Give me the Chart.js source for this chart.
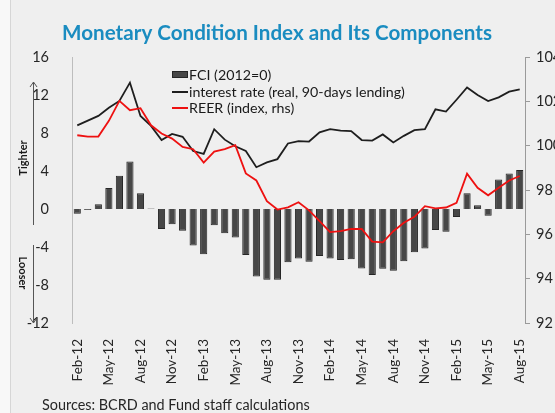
<!DOCTYPE html>
<html>
<head>
<meta charset="utf-8">
<script src="https://cdn.jsdelivr.net/npm/chart.js@4/dist/chart.umd.min.js"></script>
<style>
html,body{margin:0;padding:0;background:#efefef;}
#c{display:block;}
</style>
</head>
<body>
<canvas id="c" width="555" height="413"></canvas>
<script>
const titleText = "Monetary Condition Index and Its Components";
const sourceText = "Sources: BCRD and Fund staff calculations";
const tighterText = "Tighter";
const looserText = "Looser";

const months = ["Feb-12","Mar-12","Apr-12","May-12","Jun-12","Jul-12","Aug-12","Sep-12","Oct-12","Nov-12","Dec-12","Jan-13",
"Feb-13","Mar-13","Apr-13","May-13","Jun-13","Jul-13","Aug-13","Sep-13","Oct-13","Nov-13","Dec-13","Jan-14",
"Feb-14","Mar-14","Apr-14","May-14","Jun-14","Jul-14","Aug-14","Sep-14","Oct-14","Nov-14","Dec-14","Jan-15",
"Feb-15","Mar-15","Apr-15","May-15","Jun-15","Jul-15","Aug-15"];

const fciLabel = "FCI (2012=0)";
const fci = [-0.5,-0.1,0.5,2.2,3.5,5.0,1.65,0.05,-2.1,-1.6,-2.3,-3.85,
-4.75,-1.7,-2.55,-3.0,-4.85,-7.1,-7.45,-7.45,-5.6,-5.2,-5.55,-4.95,
-5.2,-5.37,-5.3,-6.25,-6.95,-6.3,-6.5,-5.5,-4.55,-4.15,-2.2,-2.4,
-0.85,1.65,0.4,-0.7,3.1,3.75,4.1];

const rateLabel = "interest rate (real, 90-days lending)";
const rate = [8.8,9.3,9.8,10.66,11.37,13.3,9.8,8.74,7.26,7.9,7.6,6.1,
5.8,8.4,7.3,6.6,6.1,4.4,4.9,5.25,6.9,7.15,7.1,8.07,
8.4,8.25,8.2,7.26,7.2,7.85,7.0,7.7,8.3,8.4,10.5,10.25,
11.5,12.8,12.0,11.37,11.75,12.35,12.6];

const reerLabel = "REER (index, rhs)";
const reer = [100.47,100.41,100.41,101.12,102.02,101.6,101.69,100.92,100.55,100.32,99.94,99.84,
99.24,99.73,99.84,100.02,98.75,98.43,97.5,97.12,97.22,97.45,97.08,96.6,
96.1,96.14,96.25,96.24,95.67,95.64,96.14,96.52,96.79,97.27,97.17,97.21,
97.42,98.74,98.1,97.76,98.1,98.43,98.63];

const FONT = "Lato, 'Open Sans', sans-serif";

function fitSize(ctx, text, weight, target){
  ctx.font = weight + " 20px " + FONT;
  const w = ctx.measureText(text).width;
  return 20 * target / w;
}

const deco = {
  id: 'deco',
  beforeDraw(chart){
    const ctx = chart.ctx;
    ctx.save();
    ctx.fillStyle = '#efefef';
    ctx.fillRect(0,0,chart.width,chart.height);
    ctx.fillStyle = '#f8f8f8';
    ctx.fillRect(0,0,10,chart.height);
    ctx.strokeStyle = '#d6d6d6';
    ctx.lineWidth = 1;
    ctx.beginPath(); ctx.moveTo(10.5,0); ctx.lineTo(10.5,chart.height); ctx.stroke();
    ctx.restore();
  },
  afterDraw(chart){
    const ctx = chart.ctx;
    ctx.save();
    // title
    let s = fitSize(ctx, titleText, 'bold', 430);
    ctx.font = 'bold ' + s + 'px ' + FONT;
    ctx.fillStyle = '#1a8cc0';
    ctx.textAlign = 'center';
    ctx.textBaseline = 'middle';
    ctx.fillText(titleText, 277, 33);

    // sources
    s = fitSize(ctx, sourceText, 'normal', 268);
    ctx.font = s + 'px ' + FONT;
    ctx.fillStyle = '#262626';
    ctx.textAlign = 'left';
    ctx.fillText(sourceText, 42, 405);

    // legend
    const ds = chart.data.datasets;
    const ls = fitSize(ctx, rateLabel, 'normal', 216);
    ctx.font = ls + 'px ' + FONT;
    ctx.fillStyle = '#1a1a1a';
    const rows = [75, 92, 108];
    // bar icon
    ctx.fillStyle = ds[0].backgroundColor;
    ctx.fillRect(172, 71, 16, 7);
    ctx.strokeStyle = ds[0].borderColor;
    ctx.lineWidth = 1;
    ctx.strokeRect(172.5, 71.5, 15, 6);
    ctx.fillStyle = '#1a1a1a';
    ctx.fillText(ds[0].label, 189, rows[0]);
    for (let k = 1; k < 3; k++){
      ctx.strokeStyle = ds[k].borderColor;
      ctx.lineWidth = 2;
      ctx.beginPath(); ctx.moveTo(172, rows[k]); ctx.lineTo(188, rows[k]); ctx.stroke();
      ctx.fillStyle = '#1a1a1a';
      ctx.fillText(ds[k].label, 189, rows[k]);
    }

    // arrows
    ctx.strokeStyle = '#555';
    ctx.lineWidth = 1;
    ctx.beginPath();
    ctx.moveTo(33.5, 225); ctx.lineTo(33.5, 82);
    ctx.moveTo(30, 87); ctx.lineTo(33.5, 82); ctx.lineTo(37, 87);
    ctx.moveTo(33.5, 245); ctx.lineTo(33.5, 323);
    ctx.moveTo(30, 318); ctx.lineTo(33.5, 323); ctx.lineTo(37, 318);
    ctx.stroke();

    ctx.fillStyle = '#1a1a1a';
    ctx.font = 'bold 11px ' + FONT;
    ctx.textAlign = 'center';
    ctx.save();
    ctx.translate(23, 158);
    ctx.rotate(-Math.PI/2);
    ctx.fillText(tighterText, 0, 0);
    ctx.restore();
    ctx.save();
    ctx.translate(23, 273);
    ctx.rotate(Math.PI/2);
    ctx.fillText(looserText, 0, 0);
    ctx.restore();
    ctx.restore();
  }
};

new Chart(document.getElementById('c'), {
  type: 'bar',
  data: {
    labels: months,
    datasets: [
      {
        type: 'bar', label: fciLabel, data: fci, yAxisID: 'y',
        backgroundColor: '#474747', borderColor: '#262626', borderWidth: 1,
        barPercentage: 0.68, categoryPercentage: 1.0, order: 3
      },
      {
        type: 'line', label: rateLabel, data: rate, yAxisID: 'y',
        borderColor: '#1e1e1e', backgroundColor: '#1e1e1e', borderWidth: 1.8,
        pointRadius: 0, tension: 0, order: 2
      },
      {
        type: 'line', label: reerLabel, data: reer, yAxisID: 'y1',
        borderColor: '#ee1111', backgroundColor: '#ee1111', borderWidth: 1.8,
        pointRadius: 0, tension: 0, order: 1
      }
    ]
  },
  options: {
    responsive: false,
    animation: false,
    devicePixelRatio: 1,
    layout: { padding: { top: 57, left: 0, right: 0, bottom: 0 } },
    plugins: { legend: { display: false }, title: { display: false }, tooltip: { enabled: false } },
    scales: {
      x: {
        grid: { display: false },
        border: { display: false },
        ticks: {
          autoSkip: false, maxRotation: 90, minRotation: 90, padding: 8,
          color: '#262626', font: { family: FONT, size: 13.5 },
          callback: function(v, i){ return i % 3 === 0 ? this.getLabelForValue(v) : ''; }
        },
        afterFit: function(sc){ sc.height = 90; }
      },
      y: {
        position: 'left', min: -12, max: 16,
        grid: { display: false },
        border: { display: true, color: '#bdbdbd', width: 1 },
        ticks: { stepSize: 4, padding: 15, color: '#262626', font: { family: FONT, size: 14.5 } },
        afterFit: function(sc){ sc.width = 72; }
      },
      y1: {
        position: 'right', min: 92, max: 104,
        grid: { display: true, drawOnChartArea: false, drawTicks: true, tickLength: 5, color: '#9a9a9a' },
        border: { display: true, color: '#9a9a9a', width: 1 },
        ticks: { stepSize: 2, padding: 6, color: '#262626', font: { family: FONT, size: 14.5 } },
        afterFit: function(sc){ sc.width = 30; }
      }
    }
  },
  plugins: [deco]
});
</script>
</body>
</html>
